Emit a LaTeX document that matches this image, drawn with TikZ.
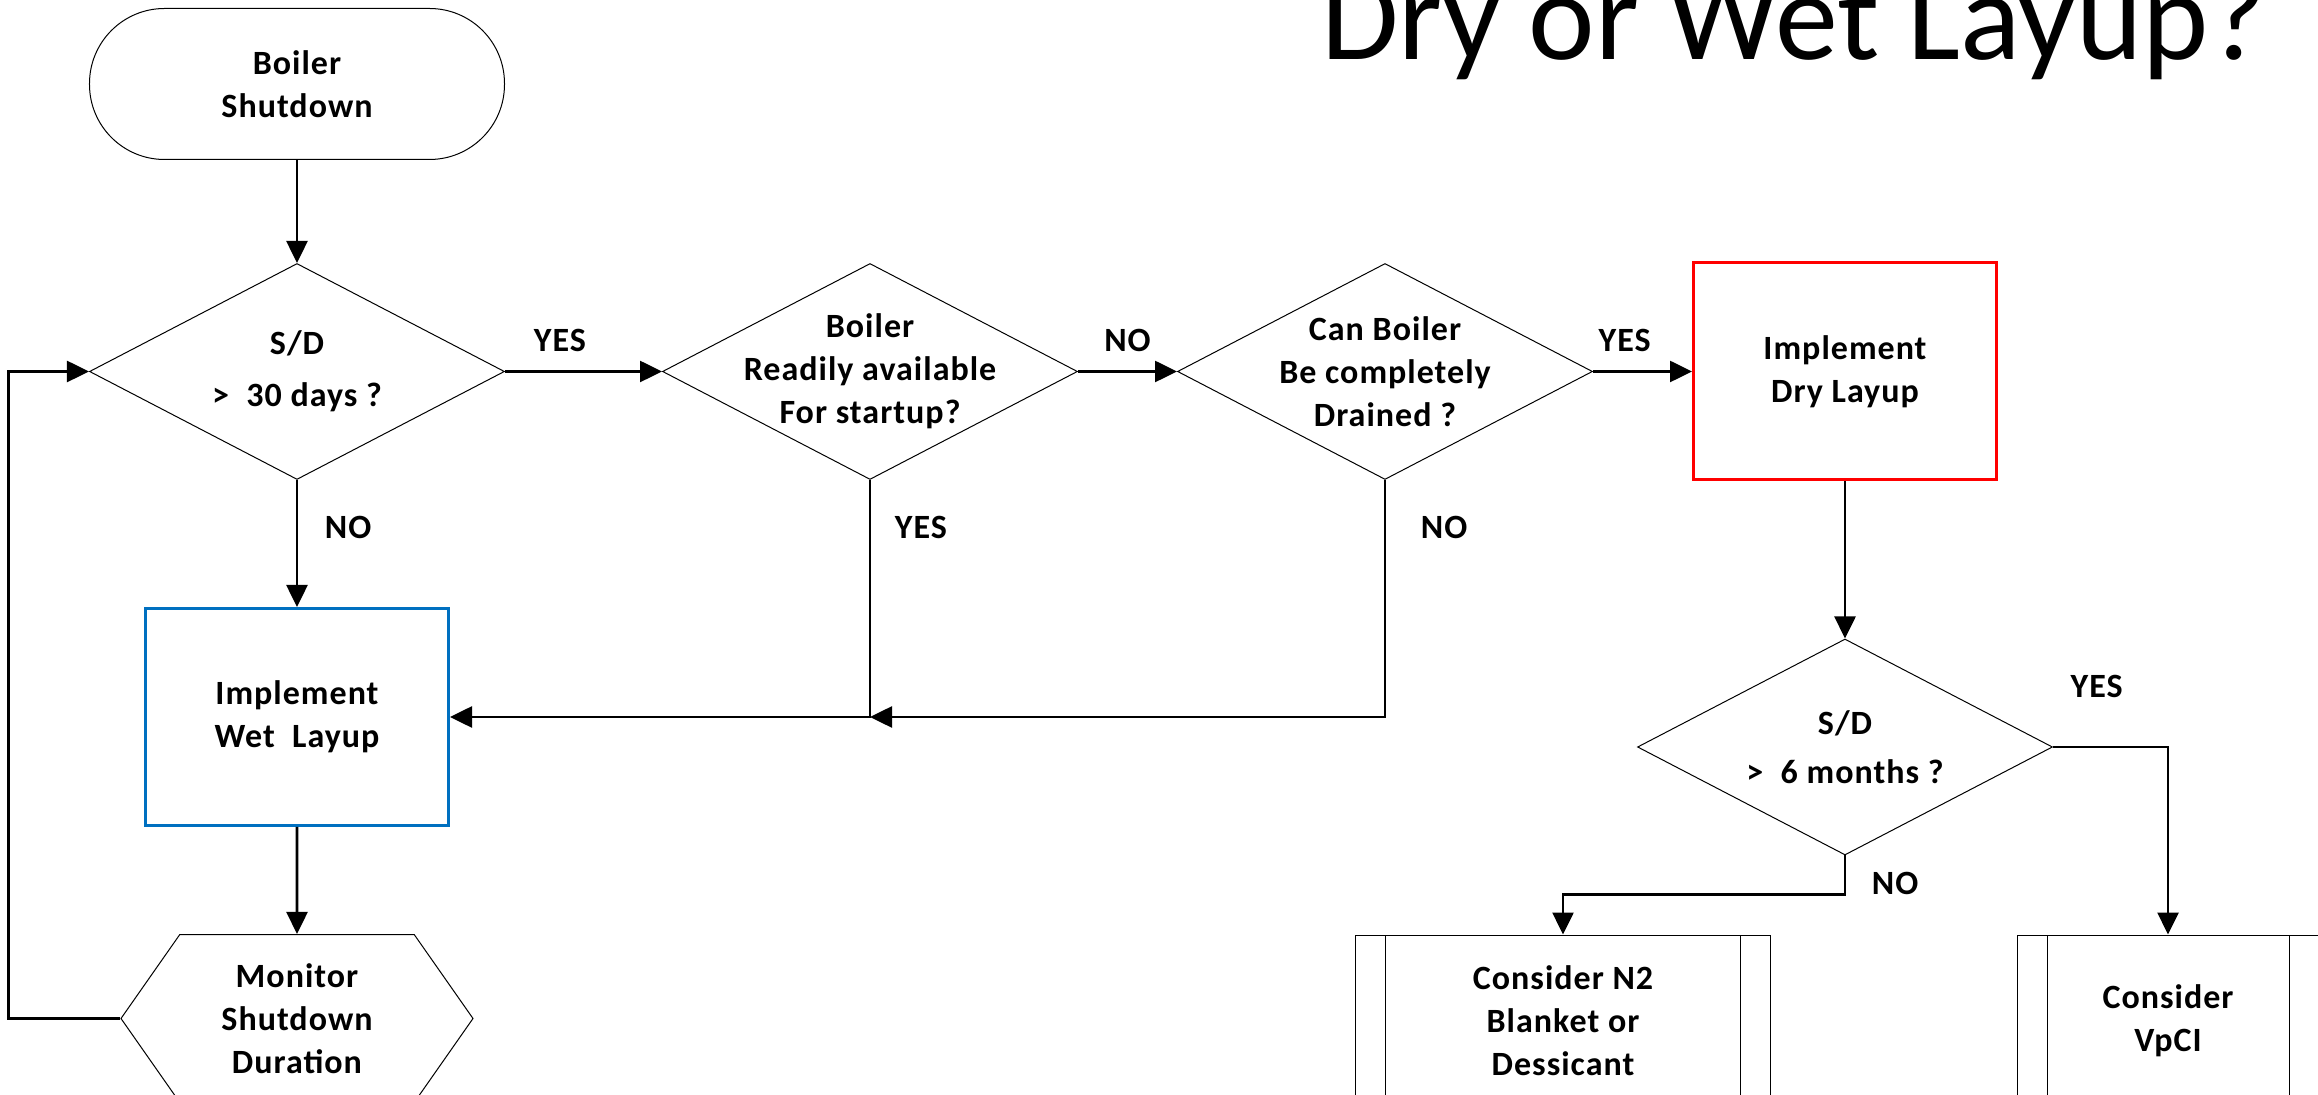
\documentclass[tikz,border=0pt]{standalone}
\usepackage{fontspec}
\setmainfont{Carlito}
\usepackage{tikz}
\usetikzlibrary{shapes.geometric, shapes.symbols, arrows.meta, positioning}
\definecolor{wetblue}{RGB}{0, 112, 192}
\definecolor{dryred}{RGB}{255, 0, 0}

\begin{document}
\begin{tikzpicture}[
  every node/.style={font=\fontsize{17}{21.5}\selectfont\bfseries\addfontfeatures{LetterSpace=3}, align=center},
  terminal/.style={rectangle, draw, line width=0.5pt, rounded corners=37.5pt, minimum width=207.5pt, minimum height=75.5pt},
  decision/.style={diamond, draw, line width=0.5pt, minimum width=207.5pt, minimum height=108pt, inner sep=0pt},
  process/.style={rectangle, draw, line width=1.5pt, minimum width=151.5pt, minimum height=108.5pt},
  monitor/.style={signal, signal to=west and east, signal pointer angle=110, draw, line width=0.5pt, minimum width=176pt, minimum height=84pt},
  subproc/.style={rectangle, draw, line width=0.5pt, minimum height=86pt,
    path picture={\draw[line width=0.5pt] ([xshift=15pt]path picture bounding box.north west) -- ([xshift=15pt]path picture bounding box.south west)
      ([xshift=-15pt]path picture bounding box.north east) -- ([xshift=-15pt]path picture bounding box.south east);}},
  flow/.style={-{Triangle[length=11pt, width=10.5pt]}, line width=1.3pt},
  title/.style={font=\fontsize{63}{70}\selectfont, inner sep=0pt}
]
  \path[use as bounding box, clip] (-148.5pt,-505.5pt) rectangle (1010.5pt,42pt);

  \node[terminal] (start) {Boiler\\Shutdown};
  \node[decision, below=51.5pt of start] (d1) {};
  \node (d1t) at (d1) {S/D\\[4.5pt]>\ \ 30 days ?};
  \node[decision, right=78.5pt of d1] (d2) {};
  \node (d2t) at (d2) {Boiler\\Readily available\\For startup?};
  \node[decision, right=49.5pt of d2] (d3) {};
  \node (d3t) at (d3) {Can Boiler\\Be completely\\Drained ?};
  \node[process, draw=dryred, right=49.5pt of d3] (dry) {Implement\\Dry Layup};
  \node[process, draw=wetblue, below=63.5pt of d1] (wet) {Implement\\Wet\ \ Layup};
  \node[monitor, below=53.5pt of wet] (mon) {Monitor\\Shutdown\\Duration};
  \node[decision, below=78.5pt of dry] (d4) {};
  \node (d4t) at (d4) {S/D\\[3pt]>\ \ 6 months ?};
  \node[subproc, minimum width=207.5pt, below=39.5pt of d4, xshift=-141pt] (n2) {Consider N2\\Blanket or\\Dessicant};
  \node[subproc, minimum width=151pt, below=39.5pt of d4, xshift=161.5pt] (vpci) {Consider\\VpCI};
  \coordinate (join) at (d2.south |- wet.east);

  \node[title, anchor=base east] (ttl) at (985pt,12pt) {Dry or Wet Layup?};

  \draw[flow] (start) -- (d1);
  \draw[flow] (d1.east) -- (d2.west) node[pos=0.35, above=6pt] {YES};
  \draw[flow] (d2.east) -- (d3.west) node[midway, above=6pt] {NO};
  \draw[flow] (d3.east) -- (dry.west) node[pos=0.32, above=6pt] {YES};
  \draw[flow] (d1.south) -- (wet.north) node[pos=0.37, right=10pt] {NO};
  \draw[flow] (d2.south) |- (wet.east) node[pos=0.1, right=8.5pt] {YES};
  \draw[flow] (d3.south) |- (join) node[pos=0.1, right=14pt] {NO};
  \draw[flow] (wet) -- (mon);
  \draw[flow] (mon.west) -- ++(-56pt,0) |- (d1.west);
  \draw[flow] (dry) -- (d4);
  \draw[flow] (d4.south) -- ++(0,-19.5pt) node[anchor=base west, xshift=9.5pt] {NO} -| (n2.north);
  \draw[flow] (d4.east) -| (vpci.north) node[pos=0.19, above=20.5pt] {YES};
\end{tikzpicture}
\end{document}
